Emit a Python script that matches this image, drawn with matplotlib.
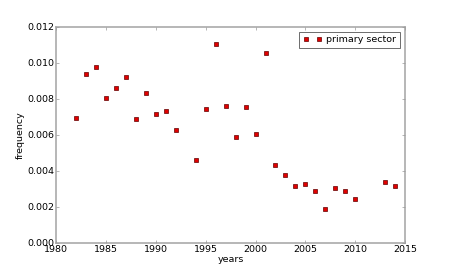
import matplotlib
matplotlib.use("Agg")
import matplotlib.pyplot as plt

years = [1982, 1983, 1984, 1985, 1986, 1987, 1988, 1989, 1990, 1991, 1992,
         1994, 1995, 1996, 1997, 1998, 1999, 2000, 2001, 2002, 2003, 2004,
         2005, 2006, 2007, 2008, 2009, 2010, 2013, 2014]
frequency = [0.00694, 0.00941, 0.00980, 0.00807, 0.00859, 0.00920, 0.00689,
             0.00833, 0.00715, 0.00735, 0.00626, 0.00461, 0.00746, 0.01107,
             0.00761, 0.00591, 0.00754, 0.00604, 0.01054, 0.00433, 0.00380,
             0.00317, 0.00328, 0.00287, 0.00189, 0.00304, 0.00289, 0.00244,
             0.00339, 0.00319]
series_label = "primary sector"
xtick_labels = ["1980", "1985", "1990", "1995", "2000", "2005", "2010", "2015"]
ytick_labels = ["0.000", "0.002", "0.004", "0.006", "0.008", "0.010", "0.012"]

plt.style.use("classic")
plt.rcParams["font.family"] = ["DejaVu Sans"]
fs = 6.8

fig = plt.figure(figsize=(4.5, 2.7), dpi=100)
ax = fig.add_subplot(111)
ax.plot(years, frequency, linestyle="none", marker="s", markersize=2.6,
        markerfacecolor="#e00000", markeredgecolor="#600000",
        markeredgewidth=0.5, label=series_label)
ax.set_xlim(1980, 2015)
ax.set_ylim(0, 0.012)
ax.set_xticks([int(t) for t in xtick_labels])
ax.set_xticklabels(xtick_labels)
ax.set_yticks([float(t) for t in ytick_labels])
ax.set_yticklabels(ytick_labels)
ax.tick_params(labelsize=fs, length=2, width=0.5, color="#999999", direction="in",
               top=True, right=True, pad=1.5)
for s in ax.spines.values():
    s.set_color("#aaaaaa")
    s.set_linewidth(1.2)
ax.set_xlabel("years", fontsize=fs, labelpad=1)
ax.set_ylabel("frequency", fontsize=fs, labelpad=2)
leg = ax.legend(loc="upper right", fontsize=fs, numpoints=2, borderpad=0.4,
                handlelength=2.0, handletextpad=0.5, borderaxespad=0.5)
leg.get_frame().set_edgecolor("#555555")
leg.get_frame().set_linewidth(0.6)
fig.savefig("out.png", dpi=100)
